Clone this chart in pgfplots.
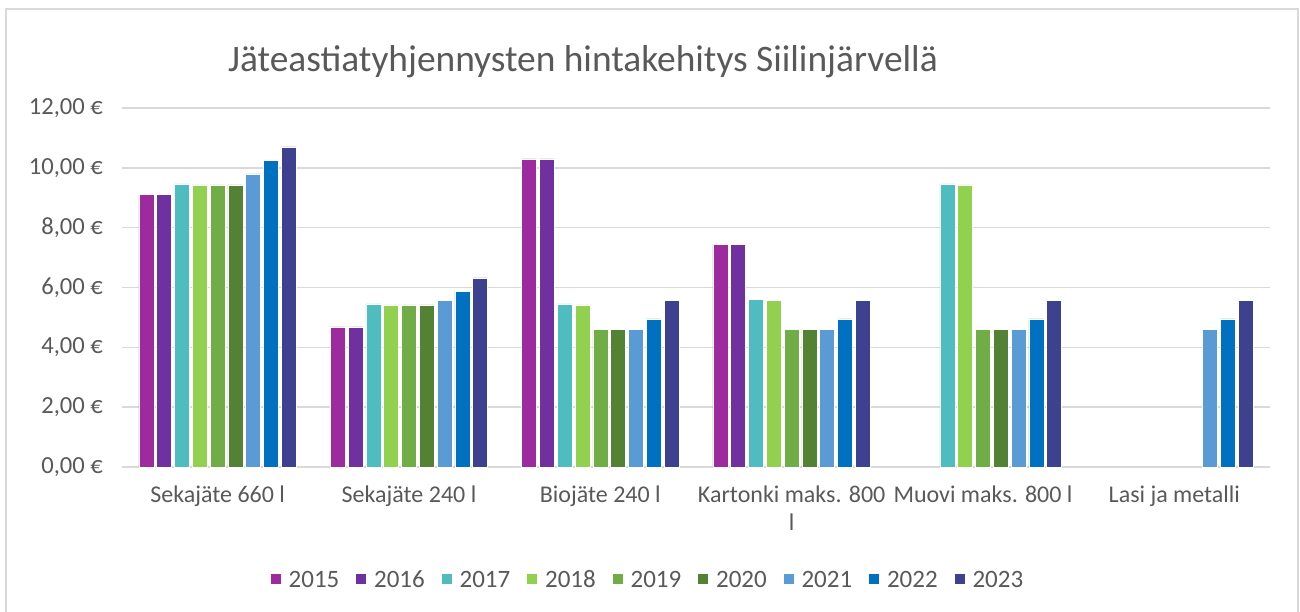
\documentclass[border=0pt]{standalone}
\usepackage{fontspec}
\setmainfont{Carlito}
\usepackage{pgfplots}
\pgfplotsset{compat=1.18}

\definecolor{c15}{HTML}{9E2AA0}
\definecolor{c16}{HTML}{7030A0}
\definecolor{c17}{HTML}{4FBDC0}
\definecolor{c18}{HTML}{92D050}
\definecolor{c19}{HTML}{70AD47}
\definecolor{c20}{HTML}{548235}
\definecolor{c21}{HTML}{5B9BD5}
\definecolor{c22}{HTML}{0070C0}
\definecolor{c23}{HTML}{3E418F}
\definecolor{txt}{HTML}{595959}
\definecolor{gridc}{HTML}{D9D9D9}

\begin{document}
\begin{tikzpicture}
\useasboundingbox (-61pt,-72pt) rectangle (589pt,233.5pt);
\draw[gridc, line width=0.8pt] (-58pt,-80pt) rectangle (588pt,229pt);
\node[font=\fontsize{18.7}{21}\selectfont, text=txt] at (230.5pt,202.5pt) {Jäteastiatyhjennysten hintakehitys Siilinjärvellä};
\begin{axis}[
    at={(0pt,0pt)}, anchor=south west,
    scale only axis,
    width=574pt, height=179.5pt,
    ybar=1.4pt, bar width=7.5pt,
    xmin=-0.5, xmax=5.5,
    ymin=0, ymax=12,
    ytick={0,2,4,6,8,10,12},
    xtick={0,1,2,3,4,5},
    xticklabels={Sekajäte 660 l, Sekajäte 240 l, Biojäte 240 l, {Kartonki maks. 800\\l}, Muovi maks. 800 l, Lasi ja metalli},
    x tick label style={align=center, font=\fontsize{12}{14}\selectfont, text=txt, yshift=-6pt},
    y tick label style={font=\fontsize{12.3}{14}\selectfont, text=txt, xshift=-6pt},
    yticklabel={\pgfmathprintnumber[fixed,fixed zerofill,precision=2,use comma,assume math mode=true]{\tick}~€},
    major tick length=0pt,
    axis line style={draw=none},
    ymajorgrids,
    grid style={gridc, line width=0.75pt},
    barstyle/.style={fill=#1, draw=white, line width=0.3pt},
    legend columns=9,
    legend style={at={(0.459,-0.312)}, anchor=center, draw=none, fill=none,
        font=\fontsize{12.5}{14}\selectfont, text=txt,
        nodes={text height=8.5pt, text depth=0pt},
        /tikz/every odd column/.append style={column sep=2pt},
        /tikz/every even column/.append style={column sep=6.4pt}},
    legend image code/.code={\fill[#1,draw=none] (0pt,-2.5pt) rectangle (5pt,2.5pt);},
]
\addplot[barstyle=c15] coordinates {(0,9.10) (1,4.68) (2,10.30) (3,7.45)};
\addlegendentry{2015}
\addplot[barstyle=c16] coordinates {(0,9.10) (1,4.68) (2,10.30) (3,7.45)};
\addlegendentry{2016}
\addplot[barstyle=c17] coordinates {(0,9.46) (1,5.45) (2,5.45) (3,5.60) (4,9.46)};
\addlegendentry{2017}
\addplot[barstyle=c18] coordinates {(0,9.43) (1,5.42) (2,5.42) (3,5.57) (4,9.43)};
\addlegendentry{2018}
\addplot[barstyle=c19] coordinates {(0,9.43) (1,5.42) (2,4.60) (3,4.60) (4,4.60)};
\addlegendentry{2019}
\addplot[barstyle=c20] coordinates {(0,9.43) (1,5.42) (2,4.60) (3,4.60) (4,4.60)};
\addlegendentry{2020}
\addplot[barstyle=c21] coordinates {(0,9.80) (1,5.57) (2,4.60) (3,4.60) (4,4.60) (5,4.60)};
\addlegendentry{2021}
\addplot[barstyle=c22] coordinates {(0,10.26) (1,5.88) (2,4.95) (3,4.95) (4,4.95) (5,4.95)};
\addlegendentry{2022}
\addplot[barstyle=c23] coordinates {(0,10.70) (1,6.32) (2,5.57) (3,5.57) (4,5.57) (5,5.57)};
\addlegendentry{2023}
\end{axis}
\end{tikzpicture}
\end{document}
